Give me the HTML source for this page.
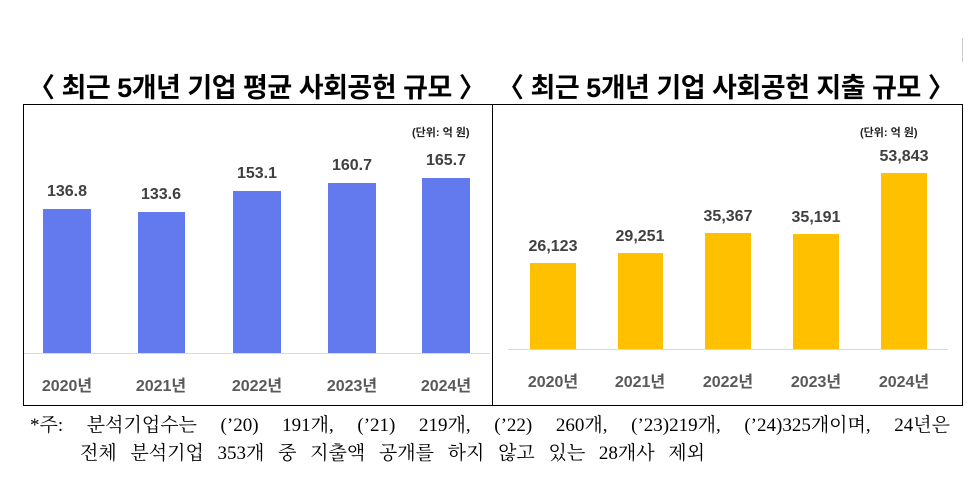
<!DOCTYPE html>
<html><head><meta charset="utf-8"><style>
body{margin:0;width:977px;height:478px;background:#fff;position:relative;overflow:hidden;font-family:"Liberation Sans","Noto Sans CJK KR",sans-serif}
.t{position:absolute;font-weight:bold;font-size:27px;top:66px;white-space:nowrap;width:450px;text-align-last:justify;letter-spacing:-0.5px}
.box{position:absolute;left:23px;top:104px;width:938px;height:300px;border:1px solid #000}
.div{position:absolute;left:492px;top:104px;width:1px;height:301px;background:#000}
.b{position:absolute}
.v{position:absolute;font-weight:bold;font-size:16px;color:#404040;text-align:center;width:80px}
.y{position:absolute;font-weight:bold;font-size:16px;color:#595959;text-align:center;width:80px}
.u{position:absolute;font-size:11px;font-weight:bold;color:#222}
.n{position:absolute;font-family:"Liberation Serif","Noto Serif CJK SC",serif;font-size:19px;white-space:nowrap;text-align-last:justify}
</style></head><body>
<div class="t" style="left:28px">〈 최근 5개년 기업 평균 사회공헌 규모 〉</div>
<div class="t" style="left:497px">〈 최근 5개년 기업 사회공헌 지출 규모 〉</div>
<div style="position:absolute;left:962px;top:38px;width:1px;height:24px;background:#ccc"></div>
<div class="box"></div><div class="div"></div>
<div class="u" style="left:412px;top:124px">(단위: 억 원)</div>
<div class="u" style="left:860px;top:124px">(단위: 억 원)</div>
<div style="position:absolute;left:24px;top:353px;width:466px;height:1px;background:#d9d9d9"></div>
<div style="position:absolute;left:508px;top:349px;width:440px;height:1px;background:#d9d9d9"></div>
<div class="b" style="left:43px;top:209px;width:48px;height:144px;background:#6379ee"></div>
<div class="b" style="left:138px;top:212px;width:47px;height:141px;background:#6379ee"></div>
<div class="b" style="left:233px;top:191px;width:48px;height:162px;background:#6379ee"></div>
<div class="b" style="left:328px;top:183px;width:48px;height:170px;background:#6379ee"></div>
<div class="b" style="left:422px;top:178px;width:48px;height:175px;background:#6379ee"></div>
<div class="v" style="left:27px;top:183px">136.8</div>
<div class="v" style="left:121px;top:186px">133.6</div>
<div class="v" style="left:217px;top:165px">153.1</div>
<div class="v" style="left:312px;top:157px">160.7</div>
<div class="v" style="left:406px;top:152px">165.7</div>
<div class="y" style="left:27px;top:372px">2020년</div>
<div class="y" style="left:121px;top:372px">2021년</div>
<div class="y" style="left:217px;top:372px">2022년</div>
<div class="y" style="left:312px;top:372px">2023년</div>
<div class="y" style="left:406px;top:372px">2024년</div>
<div class="b" style="left:530px;top:263px;width:46px;height:86px;background:#ffc000"></div>
<div class="b" style="left:618px;top:253px;width:45px;height:96px;background:#ffc000"></div>
<div class="b" style="left:705px;top:233px;width:46px;height:116px;background:#ffc000"></div>
<div class="b" style="left:793px;top:234px;width:46px;height:115px;background:#ffc000"></div>
<div class="b" style="left:881px;top:173px;width:46px;height:176px;background:#ffc000"></div>
<div class="v" style="left:513px;top:238px">26,123</div>
<div class="v" style="left:600px;top:228px">29,251</div>
<div class="v" style="left:688px;top:208px">35,367</div>
<div class="v" style="left:776px;top:209px">35,191</div>
<div class="v" style="left:864px;top:148px">53,843</div>
<div class="y" style="left:513px;top:368px">2020년</div>
<div class="y" style="left:600px;top:368px">2021년</div>
<div class="y" style="left:688px;top:368px">2022년</div>
<div class="y" style="left:776px;top:368px">2023년</div>
<div class="y" style="left:864px;top:368px">2024년</div>
<div class="n" style="left:30px;top:410px;width:920px">*주: 분석기업수는 (’20) 191개, (’21) 219개, (’22) 260개, (’23)219개, (’24)325개이며, 24년은</div>
<div class="n" style="left:80px;top:438px;width:625px">전체 분석기업 353개 중 지출액 공개를 하지 않고 있는 28개사 제외</div>
</body></html>
